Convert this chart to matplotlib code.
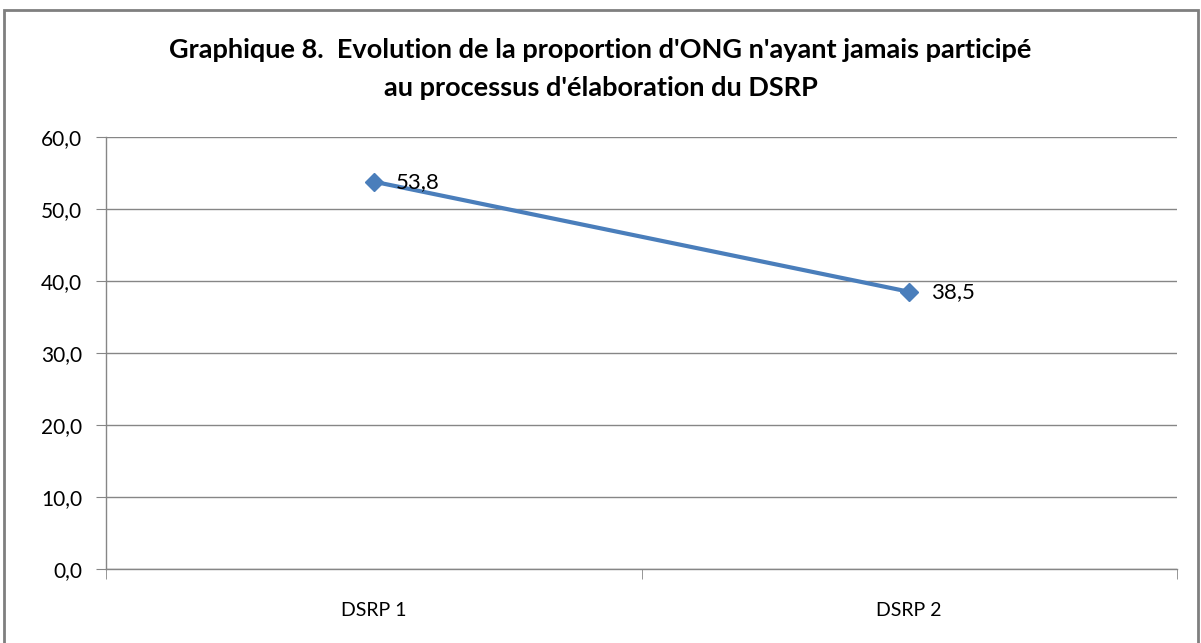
import matplotlib.pyplot as plt
from matplotlib.patches import Rectangle

# Data
categories = ['DSRP 1', 'DSRP 2']
values = [53.8, 38.5]
yticks = [0, 10, 20, 30, 40, 50, 60]

plt.rcParams['font.family'] = ['Lato', 'DejaVu Sans']

fig = plt.figure(figsize=(12.01, 6.43), dpi=100)
ax = fig.add_axes([106 / 1201, 1 - 569 / 643, 1071 / 1201, 432 / 643])

grid_col = '#868686'
x = list(range(len(categories)))
ax.plot(x, values, color='#4A7EBB', linewidth=3, marker='D', markersize=9, zorder=3)
for xi, v in zip(x, values):
    ax.annotate(f'{v:.1f}'.replace('.', ','), (xi, v), xytext=(16, 0),
                textcoords='offset points', va='center', ha='left', fontsize=16)

ax.set_xlim(-0.5, 1.5)
ax.set_ylim(0, 60)
ax.set_yticks(yticks)
ax.set_yticklabels([f'{t:.1f}'.replace('.', ',') for t in yticks], fontsize=15)
ax.yaxis.grid(True, color=grid_col, linewidth=1)
ax.set_axisbelow(True)

# category labels at centres, tick marks at boundaries
ax.set_xticks(x)
ax.set_xticklabels(categories, fontsize=14)
ax.tick_params(axis='x', length=0, pad=24)
ax.set_xticks([-0.5, 0.5, 1.5], minor=True)
ax.tick_params(axis='x', which='minor', length=7, color=grid_col, direction='out')
ax.tick_params(axis='y', length=7, color=grid_col, pad=10)

for s in ['top', 'right']:
    ax.spines[s].set_visible(False)
for s in ['left', 'bottom']:
    ax.spines[s].set_color(grid_col)
    ax.spines[s].set_linewidth(1)

fig.text(0.5, 1 - 50 / 643, "Graphique 8.  Evolution de la proportion d'ONG n'ayant jamais participé",
         ha='center', va='center', fontsize=19.5, fontweight='bold')
fig.text(0.5, 1 - 88 / 643, "au processus d'élaboration du DSRP",
         ha='center', va='center', fontsize=19.5, fontweight='bold')

# outer frame
fig.patches.append(Rectangle((4 / 1201, -0.01), 1194 / 1201, 1 - 10 / 643 + 0.01,
                             transform=fig.transFigure, fill=False,
                             edgecolor='#7f7f7f', linewidth=2))

plt.savefig('out.png', dpi=100)
